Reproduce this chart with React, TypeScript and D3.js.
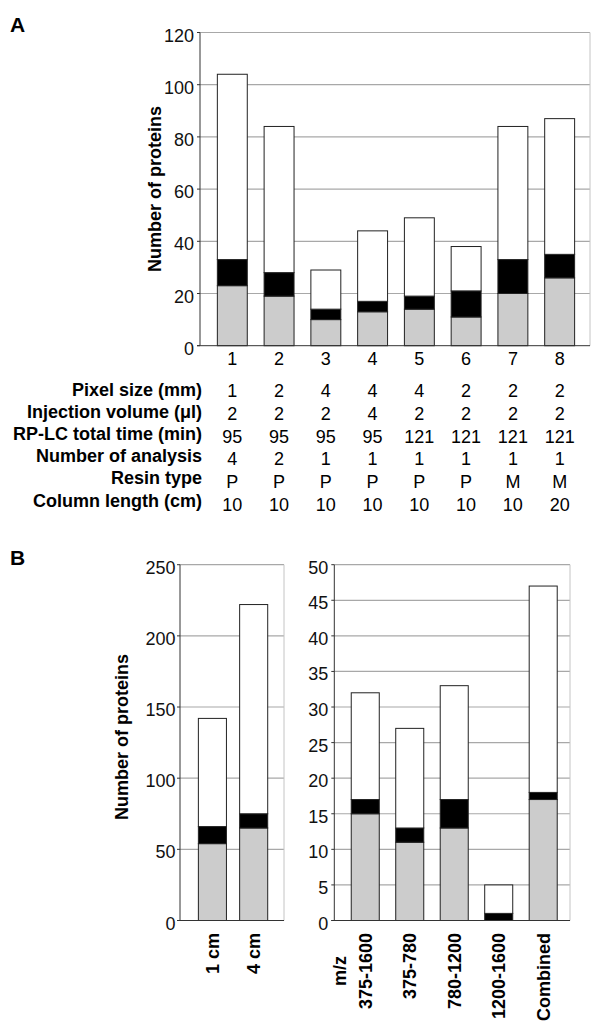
import React from 'react';
import * as d3 from 'd3';

// panel A – stacked segments (gray bottom, black middle, white top)
const runsA = ['1', '2', '3', '4', '5', '6', '7', '8'];
const grayA = [23, 19, 10, 13, 14, 11, 20, 26];
const blackA = [10, 9, 4, 4, 5, 10, 13, 9];
const whiteA = [71, 56, 15, 27, 30, 17, 51, 52];
const ticksA = [0, 20, 40, 60, 80, 100, 120];

// table under panel A
const rowLabels = [
  'Pixel size (mm)',
  'Injection volume (\u03bcl)',
  'RP-LC total time (min)',
  'Number of analysis',
  'Resin type',
  'Column length (cm)',
];
const pixelSize = ['1', '2', '4', '4', '4', '2', '2', '2'];
const injectionVolume = ['2', '2', '2', '4', '2', '2', '2', '2'];
const totalTime = ['95', '95', '95', '95', '121', '121', '121', '121'];
const numAnalysis = ['4', '2', '1', '1', '1', '1', '1', '1'];
const resinType = ['P', 'P', 'P', 'P', 'P', 'P', 'M', 'M'];
const columnLength = ['10', '10', '10', '10', '10', '10', '10', '20'];
const tableRows = [pixelSize, injectionVolume, totalTime, numAnalysis, resinType, columnLength];

// panel B left
const catsB1 = ['1 cm', '4 cm'];
const grayB1 = [54, 65];
const blackB1 = [12, 10];
const whiteB1 = [76, 147];
const ticksB1 = [0, 50, 100, 150, 200, 250];

// panel B right
const catsB2 = ['375-1600', '375-780', '780-1200', '1200-1600', 'Combined'];
const grayB2 = [15, 11, 13, 0, 17];
const blackB2 = [2, 2, 4, 1, 1];
const whiteB2 = [15, 14, 16, 4, 29];
const ticksB2 = [0, 5, 10, 15, 20, 25, 30, 35, 40, 45, 50];

const FONT = 'Liberation Sans, Arial, Helvetica, sans-serif';
const fills: Record<string, string> = {gray: '#cccccc', black: '#000000', white: '#ffffff'};
const keys = ['gray', 'black', 'white'];

const stackOf = (cats: string[], g: number[], b: number[], w: number[]) =>
  d3.stack<any>().keys(keys)(cats.map((c, i) => ({cat: c, gray: g[i], black: b[i], white: w[i]})));

type PanelProps = {
  cats: string[];
  g: number[];
  b: number[];
  w: number[];
  ticks: number[];
  x0: number;
  x1: number;
  y0: number;
  y1: number;
  pi: number;
  po: number;
  align: number;
  labelGap: number;
  frame: boolean;
};

const Panel = ({cats, g, b, w, ticks, x0, x1, y0, y1, pi, po, align, labelGap, frame}: PanelProps) => {
  const x = d3.scaleBand().domain(cats).range([x0, x1]).paddingInner(pi).paddingOuter(po).align(align);
  const y = d3.scaleLinear().domain([0, ticks[ticks.length - 1]]).range([y0, y1]);
  const series = stackOf(cats, g, b, w);
  return (
    <g>
      {ticks.map(t => (
        <g key={t}>
          {t > 0 && <line x1={x0} x2={x1} y1={y(t)} y2={y(t)} stroke="#a8a8a8" strokeWidth={1.2}/>}
          <line x1={x0 - 3} x2={x0} y1={y(t)} y2={y(t)} stroke="#333"/>
          <text x={x0 - labelGap} y={y(t)} dy="0.5em" textAnchor="end" fontSize={18} fill="#111">{t}</text>
        </g>
      ))}
      {frame && <line x1={x1} x2={x1} y1={y1} y2={y0} stroke="#c4c4c4"/>}
      {series.map(s => (
        <g key={s.key}>
          {s.map((d, i) => d[1] - d[0] > 0 && (
            <rect key={i} x={x(cats[i])} width={x.bandwidth()} y={y(d[1])} height={y(d[0]) - y(d[1])}
                  fill={fills[s.key]} stroke="#222" strokeWidth={1}/>
          ))}
        </g>
      ))}
      <line x1={x0} x2={x0} y1={y1} y2={y0} stroke="#333"/>
      <line x1={x0 - 3} x2={x1} y1={y0} y2={y0} stroke="#333"/>
    </g>
  );
};

export default function App() {
  const xA = d3.scaleBand().domain(runsA).range([200, 590]).paddingInner(0.36).paddingOuter(0.35).align(0.53);
  const centerA = (c: string) => (xA(c) as number) + xA.bandwidth() / 2;
  const xB1 = d3.scaleBand().domain(catsB1).range([180, 284]).paddingInner(0.32).paddingOuter(0.42).align(0.53);
  const xB2 = d3.scaleBand().domain(catsB2).range([334.3, 570]).paddingInner(0.37).paddingOuter(0.334).align(0.57);

  return (
    <svg width={591} height={1021} style={{position: 'absolute', left: 0, top: 0, background: '#fff'}}
         fontFamily={FONT}>
      <text x={10} y={32} fontSize={21} fontWeight="bold">A</text>
      <Panel cats={runsA} g={grayA} b={blackA} w={whiteA} ticks={ticksA}
             x0={200} x1={590} y0={345.7} y1={32.5} pi={0.36} po={0.35} align={0.53} labelGap={6} frame={true}/>
      <text transform="translate(155,189) rotate(-90)" textAnchor="middle" dy="0.35em"
            fontSize={18} fontWeight="bold">Number of proteins</text>
      {runsA.map(c => (
        <text key={c} x={centerA(c)} y={365} textAnchor="middle" fontSize={18}>{c}</text>
      ))}

      {rowLabels.map((l, r) => (
        <g key={l}>
          <text x={202} y={396 + r * 22.1} textAnchor="end" fontSize={18} fontWeight="bold">{l}</text>
          {tableRows[r].map((v, i) => (
            <text key={i} x={centerA(runsA[i])} y={397 + r * 22.8} textAnchor="middle" fontSize={18}>{v}</text>
          ))}
        </g>
      ))}

      <text x={10} y={565} fontSize={21} fontWeight="bold">B</text>
      <Panel cats={catsB1} g={grayB1} b={blackB1} w={whiteB1} ticks={ticksB1}
             x0={180} x1={284} y0={920.5} y1={564.7} pi={0.32} po={0.42} align={0.53} labelGap={4.5} frame={true}/>
      <text transform="translate(121.7,737) rotate(-90)" textAnchor="middle" dy="0.35em"
            fontSize={18} fontWeight="bold">Number of proteins</text>
      {catsB1.map(c => (
        <text key={c} transform={`translate(${(xB1(c) as number) + xB1.bandwidth() / 2},933) rotate(-90)`}
              textAnchor="end" dy="0.35em" fontSize={18} fontWeight="bold">{c}</text>
      ))}

      <Panel cats={catsB2} g={grayB2} b={blackB2} w={whiteB2} ticks={ticksB2}
             x0={334.3} x1={570} y0={920.5} y1={564.7} pi={0.37} po={0.334} align={0.57} labelGap={6} frame={true}/>
      {catsB2.map(c => (
        <text key={c} transform={`translate(${(xB2(c) as number) + xB2.bandwidth() / 2},933) rotate(-90)`}
              textAnchor="end" dy="0.35em" fontSize={18} fontWeight="bold">{c}</text>
      ))}
      <text transform={`translate(${(xB2(catsB2[0]) as number) + xB2.bandwidth() / 2 - 26},971) rotate(-90)`}
            textAnchor="middle" dy="0.35em" fontSize={18} fontWeight="bold">m/z</text>
    </svg>
  );
}
